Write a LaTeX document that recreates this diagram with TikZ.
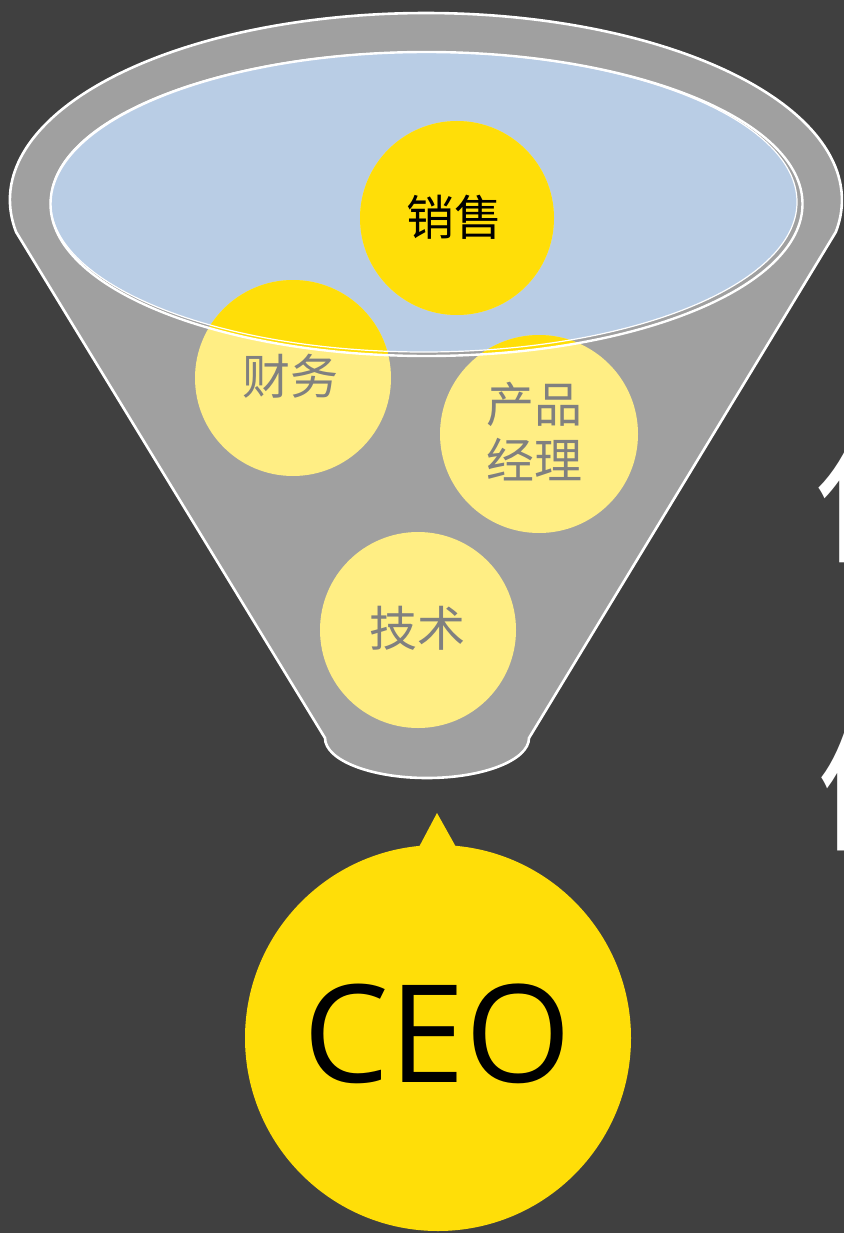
\documentclass[tikz,border=0pt]{standalone}
\usepackage{fontspec}
\setmainfont{Open Sans}
\newfontfamily\cjk{Noto Sans CJK SC}
\definecolor{bgdark}{HTML}{404040}
\definecolor{funnelgray}{HTML}{A0A0A0}
\definecolor{lakeblue}{HTML}{B9CDE5}
\definecolor{gold}{HTML}{FFDE08}
\definecolor{palegold}{HTML}{FFEE84}
\definecolor{labelgray}{HTML}{808080}

\begin{document}
\begin{tikzpicture}[x=1pt, y=-1pt,
    rim/.style={draw=white, line width=2.6pt},
    lbl/.style={font=\cjk\fontsize{48}{56}\selectfont, align=center, inner sep=0pt},
    edgeglyph/.style={font=\cjk\fontsize{145}{150}\selectfont, text=white, anchor=base west, inner sep=0pt}]
\path[use as bounding box, clip] (0,0) rectangle (844,1233);
\fill[bgdark] (0,0) rectangle (844,1233);
% funnel body
\filldraw[rim, fill=funnelgray]
    (16.1,232) arc[start angle=170.15, end angle=369.85, x radius=416, y radius=187]
    -- (529,738) arc[start angle=0, end angle=180, x radius=102, y radius=40]
    -- cycle;
\fill[lakeblue] (423.75,202) ellipse[x radius=373.25, y radius=150];
% balls, pale below the rim
\fill[palegold]
    (457,218) circle[radius=97]
    (293,378) circle[radius=98]
    (539,434) circle[radius=99]
    (418,630) circle[radius=98];
\begin{scope}
\clip (426.5,204) ellipse[x radius=376, y radius=152];
\fill[gold]
    (457,218) circle[radius=97]
    (293,378) circle[radius=98]
    (539,434) circle[radius=99];
\end{scope}
\draw[draw=white, line width=2.4pt] (426.5,204) ellipse[x radius=376, y radius=152];
\draw[draw=white, line width=1.2pt] (423.75,202) ellipse[x radius=373.25, y radius=150];
\node[lbl, text=black] (sales) at (454,217) {销售};
\node[lbl, text=labelgray] (finance) at (290,376) {财务};
\node[lbl, text=labelgray] (pm) at (534,432) {产品\\经理};
\node[lbl, text=labelgray] (tech) at (417,628) {技术};
% CEO
\fill[gold] (437,813) -- (456,847) -- (419,847) -- cycle;
\fill[gold] (438,1038) circle[radius=193];
\node[inner sep=0pt] (ceo) at (437.5,1034) {\fontsize{136}{140}\selectfont CEO};
% cut glyphs at the right edge
\node[edgeglyph] (glyphA) at (816,551) {你};
\node[edgeglyph] (glyphB) at (816,839) {们};
\end{tikzpicture}
\end{document}
